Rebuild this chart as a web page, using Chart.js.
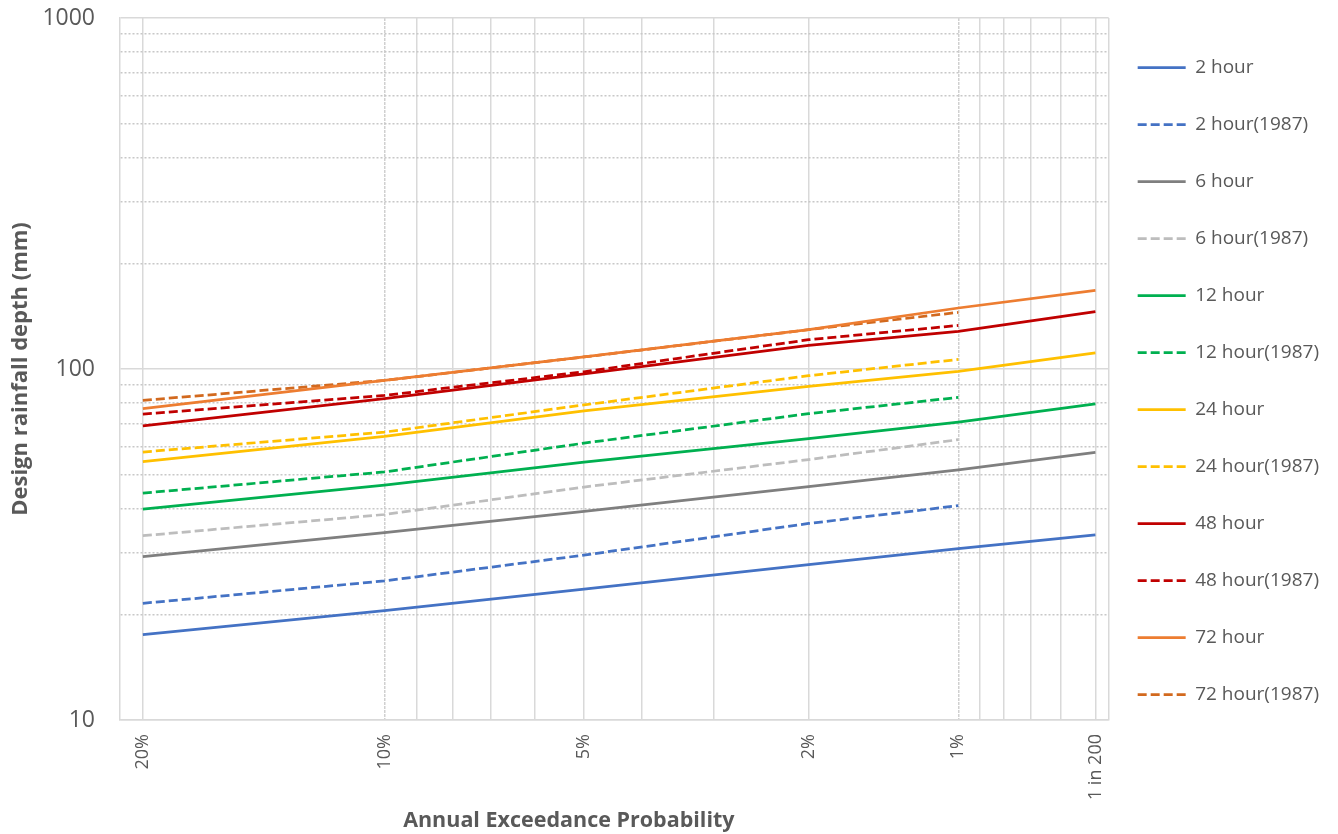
<!DOCTYPE html>
<html>
<head>
<meta charset="utf-8">
<title>Design rainfall depth</title>
<script src="https://cdn.jsdelivr.net/npm/chart.js@4/dist/chart.umd.min.js"></script>
<style>
  html, body { margin: 0; padding: 0; background: #ffffff; }
  canvas { display: block; }
</style>
</head>
<body>
<canvas id="chart" width="1338" height="834"></canvas>
<script>
// Annual exceedance probabilities at which depths are given
const aepCurrent = [0.2, 0.1, 0.05, 0.02, 0.01, 0.005];
const aep1987 = [0.2, 0.1, 0.05, 0.02, 0.01];

// Design rainfall depths (mm)
const depth2h = [17.5, 20.5, 23.6, 27.7, 30.8, 33.7];
const depth2h1987 = [21.5, 24.9, 29.5, 36.3, 40.8];
const depth6h = [29.2, 34.2, 39.3, 46.2, 51.6, 57.9];
const depth6h1987 = [33.5, 38.5, 46.1, 55.2, 62.9];
const depth12h = [39.9, 46.7, 54.3, 63.3, 70.6, 79.5];
const depth12h1987 = [44.3, 50.9, 61.5, 74.6, 83.0];
const depth24h = [54.5, 64.3, 76.0, 89.2, 98.4, 111.1];
const depth24h1987 = [58.0, 66.1, 79.0, 95.7, 106.5];
const depth48h = [68.9, 82.3, 96.8, 116.7, 128.0, 145.6];
const depth48h1987 = [74.4, 84.1, 98.2, 121.2, 133.1];
const depth72h = [77.1, 92.8, 108.2, 129.4, 149.2, 167.5];
const depth72h1987 = [81.4, 92.8, 108.2, 129.4, 145.0];

// Probability-axis grid positions and their labels
const aepGrid = [0.2, 0.1, 0.09, 0.08, 0.07, 0.06, 0.05, 0.04, 0.03, 0.02,
                 0.01, 0.009, 0.008, 0.007, 0.006, 0.005];
const aepTickLabels = { 0.2: '20%', 0.1: '10%', 0.05: '5%', 0.02: '2%', 0.01: '1%', 0.005: '1 in 200' };
const aepDecades = [0.1, 0.01];

// Depth-axis grid positions and their labels
const depthGrid = [10, 20, 30, 40, 50, 60, 70, 80, 90, 100,
                   200, 300, 400, 500, 600, 700, 800, 900, 1000];
const depthTickLabels = { 10: '10', 100: '100', 1000: '1000' };

// Inverse standard normal CDF (Acklam's rational approximation)
function normInv(p) {
  const a = [-3.969683028665376e+01, 2.209460984245205e+02, -2.759285104469687e+02,
             1.383577518672690e+02, -3.066479806614716e+01, 2.506628277459239e+00];
  const b = [-5.447609879822406e+01, 1.615858368580409e+02, -1.556989798598866e+02,
             6.680131188771972e+01, -1.328068155288572e+01];
  const c = [-7.784894002430293e-03, -3.223964580411365e-01, -2.400758277161838e+00,
             -2.549732539343734e+00, 4.374664141464968e+00, 2.938163982698783e+00];
  const d = [7.784695709041462e-03, 3.224671290700398e-01, 2.445134137142996e+00,
             3.754408661907416e+00];
  const pLow = 0.02425, pHigh = 1 - pLow;
  let q, r;
  if (p < pLow) {
    q = Math.sqrt(-2 * Math.log(p));
    return (((((c[0]*q + c[1])*q + c[2])*q + c[3])*q + c[4])*q + c[5]) /
           ((((d[0]*q + d[1])*q + d[2])*q + d[3])*q + 1);
  }
  if (p <= pHigh) {
    q = p - 0.5; r = q * q;
    return (((((a[0]*r + a[1])*r + a[2])*r + a[3])*r + a[4])*r + a[5]) * q /
           (((((b[0]*r + b[1])*r + b[2])*r + b[3])*r + b[4])*r + 1);
  }
  q = Math.sqrt(-2 * Math.log(1 - p));
  return -(((((c[0]*q + c[1])*q + c[2])*q + c[3])*q + c[4])*q + c[5]) /
          ((((d[0]*q + d[1])*q + d[2])*q + d[3])*q + 1);
}
// Position on the normal-probability axis (standard normal variate of 1 - AEP)
const probitOfAep = aep => normInv(1 - aep);

const points = (aeps, depths) => aeps.map((p, i) => ({ x: probitOfAep(p), y: depths[i] }));

const BLUE = '#4472C4', GREY = '#7F7F7F', LIGHTGREY = '#BDBDBD', GREEN = '#00B050',
      GOLD = '#FFC000', RED = '#C00000', ORANGE = '#ED7D31', DARKORANGE = '#D2691E';
const DASH = [9, 4];

function series(label, aeps, depths, color, dashed) {
  return {
    label,
    data: points(aeps, depths),
    borderColor: color,
    backgroundColor: color,
    borderWidth: 2.75,
    borderDash: dashed ? DASH : [],
    pointRadius: 0,
    pointHoverRadius: 0,
    tension: 0,
    fill: false
  };
}

const datasets = [
  series('2 hour', aepCurrent, depth2h, BLUE, false),
  series('2 hour(1987)', aep1987, depth2h1987, BLUE, true),
  series('6 hour', aepCurrent, depth6h, GREY, false),
  series('6 hour(1987)', aep1987, depth6h1987, LIGHTGREY, true),
  series('12 hour', aepCurrent, depth12h, GREEN, false),
  series('12 hour(1987)', aep1987, depth12h1987, GREEN, true),
  series('24 hour', aepCurrent, depth24h, GOLD, false),
  series('24 hour(1987)', aep1987, depth24h1987, GOLD, true),
  series('48 hour', aepCurrent, depth48h, RED, false),
  series('48 hour(1987)', aep1987, depth48h1987, RED, true),
  series('72 hour', aepCurrent, depth72h, ORANGE, false),
  series('72 hour(1987)', aep1987, depth72h1987, DARKORANGE, true)
];

const TEXT = '#595959';
const GRID = '#D9D9D9';
const LEGEND_PAD = 38;

Chart.defaults.font.family = "'Open Sans', 'Noto Sans', sans-serif";
Chart.defaults.color = TEXT;

// Sets the legend column just right of the plot frame
const legendPlacement = {
  id: 'legendPlacement',
  afterLayout(chart) {
    const lg = chart.legend;
    const w = lg.right - lg.left;
    const h = lg.bottom - lg.top;
    lg.left = chart.chartArea.right + 29 - LEGEND_PAD;
    lg.right = lg.left + w;
    lg.top = 20;
    lg.bottom = lg.top + h;
  }
};

// Horizontal axis caption, centred over the area left of the legend
const axisCaption = {
  id: 'axisCaption',
  afterDraw(chart, args, opts) {
    const ctx = chart.ctx;
    const centre = (chart.legend.left + LEGEND_PAD) / 2;
    ctx.save();
    ctx.font = "bold 21.5px 'Open Sans', 'Noto Sans', sans-serif";
    ctx.fillStyle = TEXT;
    ctx.textAlign = 'center';
    ctx.textBaseline = 'middle';
    ctx.fillText(opts.text, centre, chart.height - 13);
    ctx.restore();
  }
};

const isDecade = tick => tick && tick.aep !== null && aepDecades.includes(tick.aep);

new Chart(document.getElementById('chart'), {
  type: 'line',
  data: { datasets },
  plugins: [legendPlacement, axisCaption],
  options: {
    responsive: false,
    animation: false,
    devicePixelRatio: 1,
    layout: { padding: { top: 18, right: 0, bottom: 0, left: 0 } },
    interaction: { mode: 'nearest', intersect: false },
    plugins: {
      tooltip: { enabled: false },
      axisCaption: { text: 'Annual Exceedance Probability' },
      legend: {
        position: 'right',
        align: 'start',
        labels: {
          font: { size: 19 },
          color: TEXT,
          padding: LEGEND_PAD,
          usePointStyle: true,
          pointStyle: 'line',
          pointStyleWidth: 48,
          generateLabels(chart) {
            const items = Chart.defaults.plugins.legend.labels.generateLabels(chart);
            items.forEach(item => {
              const ds = chart.data.datasets[item.datasetIndex];
              item.pointStyle = 'line';
              item.strokeStyle = ds.borderColor;
              item.lineWidth = ds.borderWidth;
              item.lineDash = ds.borderDash;
            });
            return items;
          }
        }
      }
    },
    scales: {
      x: {
        type: 'linear',
        min: 0.8,
        max: 2.6,
        afterBuildTicks(scale) {
          scale.ticks = aepGrid.map(p => ({ value: probitOfAep(p), aep: p }));
          scale.ticks.push({ value: scale.max, aep: null });
        },
        afterFit(scale) { scale.height = 114; },
        ticks: {
          autoSkip: false,
          minRotation: 90,
          maxRotation: 90,
          padding: 14,
          font: { size: 18 },
          color: TEXT,
          callback(value, index, ticks) {
            const p = ticks[index].aep;
            return p !== null && aepTickLabels[p] ? aepTickLabels[p] : '';
          }
        },
        grid: {
          drawTicks: false,
          lineWidth: 1.5,
          color: ctx => isDecade(ctx.tick) ? '#D0D0D0' : GRID
        },
        border: {
          color: GRID,
          width: 1.5,
          dash: ctx => isDecade(ctx.tick) ? [3, 1] : []
        },
        title: { display: false }
      },
      y: {
        type: 'logarithmic',
        min: 10,
        max: 1000,
        afterBuildTicks(scale) {
          scale.ticks = depthGrid.map(v => ({ value: v }));
        },
        afterFit(scale) { scale.width = 120; },
        ticks: {
          autoSkip: false,
          padding: 0,
          font: { size: 23 },
          color: TEXT,
          callback(value) { return depthTickLabels[value] || ''; }
        },
        grid: {
          drawTicks: true,
          tickLength: 25,
          tickColor: 'rgba(0,0,0,0)',
          lineWidth: 1.5,
          color: ctx => (ctx.tick && depthTickLabels[ctx.tick.value]) ? GRID : '#C8C8C8'
        },
        border: {
          color: GRID,
          width: 1.5,
          dash: ctx => (ctx.tick && !depthTickLabels[ctx.tick.value]) ? [2, 2] : []
        },
        title: {
          display: true,
          text: 'Design rainfall depth (mm)',
          color: TEXT,
          font: { size: 22, weight: 'bold' },
          padding: { top: 8, bottom: 0 }
        }
      }
    }
  }
});
</script>
</body>
</html>
